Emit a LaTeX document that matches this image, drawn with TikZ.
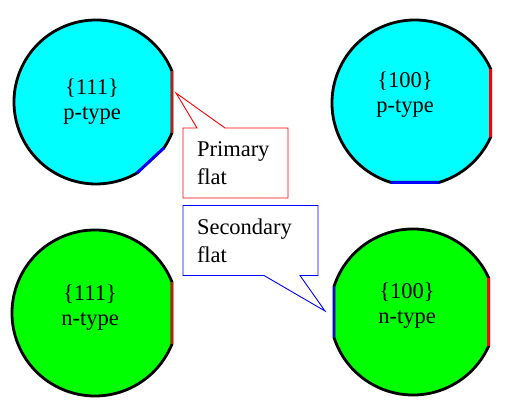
\documentclass[tikz,border=0pt]{standalone}
\usepackage{fontspec}
\setmainfont{Liberation Serif}
\usetikzlibrary{shapes.callouts}
\definecolor{waferp}{HTML}{00FFFF}
\definecolor{wafern}{HTML}{00FF00}
\definecolor{flatred}{HTML}{FF0000}
\definecolor{flatblue}{HTML}{0000FF}
\begin{document}
\begin{tikzpicture}[
  x=1pt, y=1pt,
  font=\fontsize{22.5}{25}\selectfont,
  wafer/.style={draw=black, line width=2.8pt, line join=round},
  primaryflat/.style={draw=flatred, line width=2.8pt},
  secondaryflat/.style={draw=flatblue, line width=2.8pt},
  label/.style={align=center, inner sep=0pt},
  note/.style={rectangle callout, fill=white, line width=0.9pt, align=left,
    inner xsep=14pt, minimum height=70pt,
    font=\fontsize{22.5}{28}\selectfont}
]
  \useasboundingbox (0,0) rectangle (515,412);

  % {111} p-type
  \begin{scope}[shift={(96,310)}]
    \filldraw[wafer, fill=waferp] (22:82) arc[start angle=22, end angle=300, radius=82]
      -- (326:82) arc[start angle=326, end angle=338, radius=82] -- cycle;
    \draw[primaryflat] (338:82) -- (22:82);
    \draw[secondaryflat] (300:82) -- (326:82);
  \end{scope}
  \node[label] (p111) at (92,310) {\{111\}\\p-type};

  % {100} p-type
  \begin{scope}[shift={(415,309)}]
    \filldraw[wafer, fill=waferp] (24:83) arc[start angle=24, end angle=253, radius=83]
      -- (287:83) arc[start angle=287, end angle=336, radius=83] -- cycle;
    \draw[primaryflat] (336:83) -- (24:83);
    \draw[secondaryflat] (253:83) -- (287:83);
  \end{scope}
  \node[label] (p100) at (405,317) {\{100\}\\p-type};

  % {111} n-type
  \begin{scope}[shift={(95,99)}]
    \filldraw[wafer, fill=wafern] (22:83) arc[start angle=22, end angle=338, radius=83] -- cycle;
    \draw[primaryflat] (338:83) -- (22:83);
  \end{scope}
  \node[label] (n111) at (90,104) {\{111\}\\n-type};

  % {100} n-type
  \begin{scope}[shift={(413,100)}]
    \filldraw[wafer, fill=wafern] (24:83) arc[start angle=24, end angle=162, radius=83]
      -- (198:83) arc[start angle=198, end angle=336, radius=83] -- cycle;
    \draw[primaryflat] (336:83) -- (24:83);
    \draw[secondaryflat] (162:83) -- (198:83);
  \end{scope}
  \node[label] (n100) at (407,106) {\{100\}\\n-type};

  % callouts
  \coordinate (primarytip) at (176,319);
  \coordinate (secondarytip) at (325,101);
  \node[note, draw=flatred, text width=77pt, callout pointer width=28pt,
    callout absolute pointer={(primarytip)}] (primary) at (235.5,249) {Primary\\flat};
  \node[note, draw=flatblue, text width=107pt, callout pointer width=36pt,
    callout absolute pointer={(secondarytip)}] (secondary) at (250.5,171.5) {Secondary\\flat};
\end{tikzpicture}
\end{document}
